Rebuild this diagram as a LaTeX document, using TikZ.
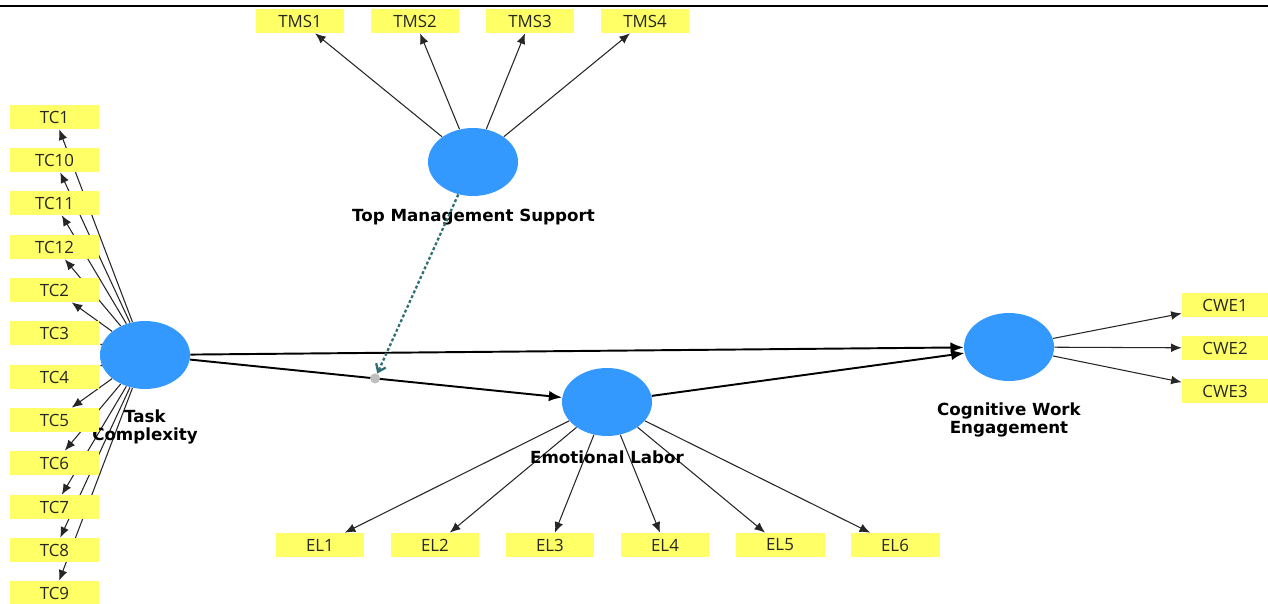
\documentclass[tikz,border=0pt]{standalone}
\usepackage{fontspec}
\setmainfont{Open Sans}
\newfontfamily\latfont{DejaVu Sans}
\usetikzlibrary{shapes.geometric,arrows.meta,backgrounds,calc}
\definecolor{lvblue}{RGB}{51,153,255}
\definecolor{mvyellow}{RGB}{255,255,102}
\definecolor{modteal}{RGB}{47,110,115}
\definecolor{dotgray}{RGB}{190,190,190}
\begin{document}
\begin{tikzpicture}[x=0.02cm,y=-0.02cm,
  lv/.style={ellipse, fill=lvblue, minimum width=1.8cm, minimum height=1.36cm, inner sep=0pt},
  mv/.style={rectangle, fill=mvyellow, minimum width=1.78cm, minimum height=0.48cm, inner sep=0pt, font=\fontsize{9.6}{10}\selectfont, text=black!85},
  lvlabel/.style={font=\latfont\bfseries\fontsize{9.5}{10.3}\selectfont, align=center, inner sep=0pt},
  ind/.style={-{Latex[length=6pt,width=5pt]}, line width=0.6pt, black!85},
  struct/.style={-{Latex[length=7.5pt,width=6pt]}, line width=1.1pt, black},
  modline/.style={-{Straight Barb[length=4pt,width=6pt]}, line width=1.3pt, modteal, dash pattern=on 1.7pt off 1.3pt},
  moddot/.style={circle, fill=dotgray, minimum size=0.2cm, inner sep=0pt}]
\useasboundingbox (0,0) rectangle (1268,604);
% header rule
\coordinate (hl) at (0,6);
\coordinate (hr) at (1268,6);
\draw[line width=1.2pt] (hl) -- (hr);

% latent variables
\node[lv] (tms) at (473,162) {};
\node[lv] (tc)  at (145,355) {};
\node[lv] (el)  at (607,402) {};
\node[lv] (cwe) at (1009,347) {};

\node[lvlabel] (tmsl) at (473.5,217) {Top Management Support};
\node[lvlabel] (tcl)  at (145,427) {Task\\Complexity};
\node[lvlabel] (ell)  at (607,457) {Emotional Labor};
\node[lvlabel] (cwel) at (1009,420) {Cognitive Work\\Engagement};

% indicators
\foreach \n/\x in {TMS1/300,TMS2/415,TMS3/530,TMS4/645}
  \node[mv] (\n) at (\x,21) {\n};
\foreach \n/\y in {TC1/117,TC10/160,TC11/203,TC12/247,TC2/290,TC3/333,TC4/377,TC5/420,TC6/463,TC7/507,TC8/550,TC9/593}
  \node[mv] (\n) at (54.5,\y) {\n};
\foreach \n/\x in {EL1/320,EL2/435,EL3/550,EL4/665,EL5/780,EL6/895}
  \node[mv] (\n) at (\x,545) {\n};
\foreach \n/\y in {CWE1/305,CWE2/348,CWE3/391}
  \node[mv, minimum width=1.72cm] (\n) at (1225,\y) {\n};

% moderation point
\coordinate (modc) at ($(tc)!0.498!(el)$);
\node[moddot] (mod) at (modc) {};

\begin{pgfonlayer}{background}
  \fill[white] (0,0) rectangle (1268,604);
  \foreach \n in {TMS1,TMS2,TMS3,TMS4}
    \draw[ind] (tms) -- (\n);
  \foreach \n in {TC1,TC10,TC11,TC12,TC2,TC3,TC4,TC5,TC6,TC7,TC8,TC9}
    \draw[ind] (tc) -- (\n);
  \foreach \n in {EL1,EL2,EL3,EL4,EL5,EL6}
    \draw[ind] (el) -- (\n);
  \foreach \n in {CWE1,CWE2,CWE3}
    \draw[ind] (cwe) -- (\n);
  \draw[struct] (tc) -- (el);
  \draw[struct] (tc) -- (cwe);
  \draw[struct] (el) -- (cwe);
\end{pgfonlayer}
\draw[modline] (tms) -- (mod);
\end{tikzpicture}
\end{document}
